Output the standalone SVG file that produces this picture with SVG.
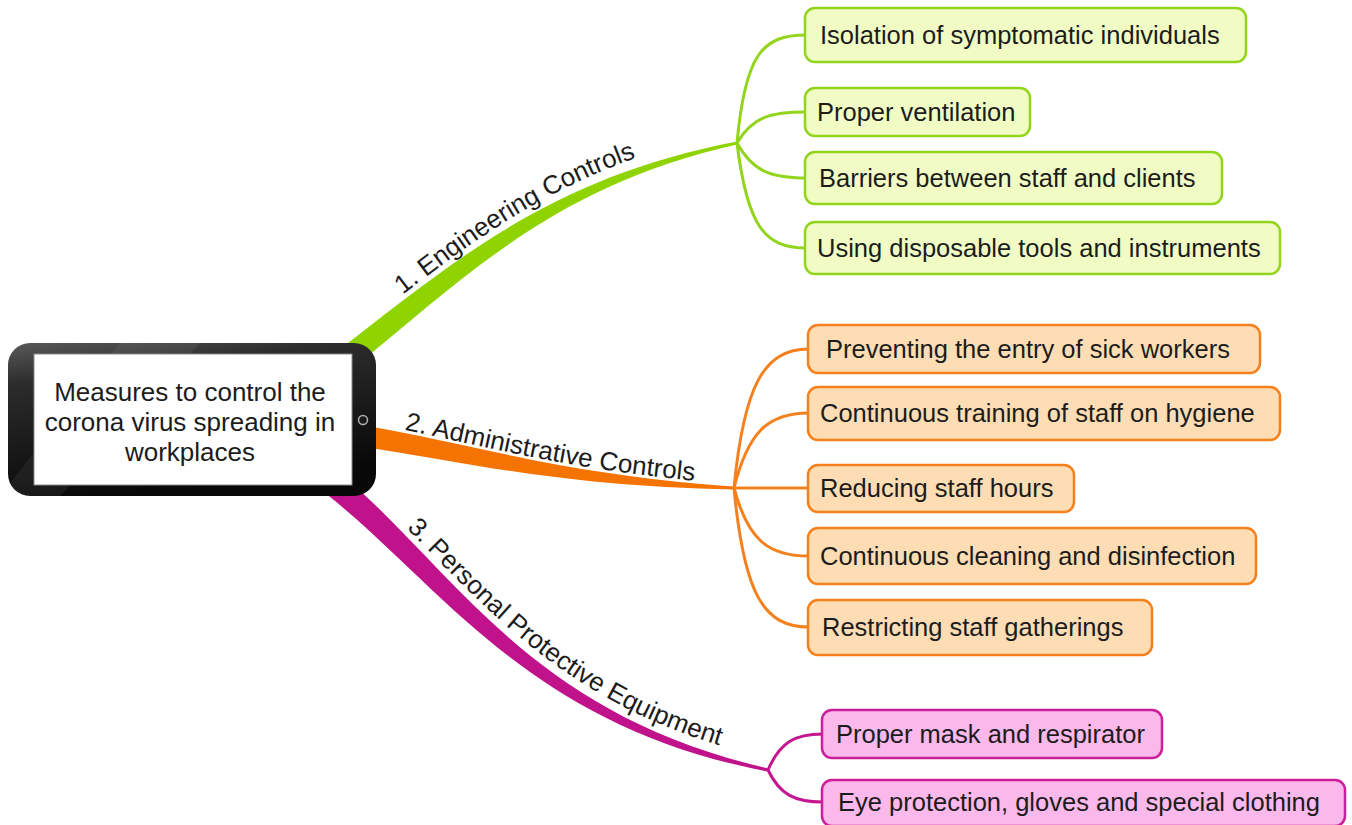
<svg xmlns="http://www.w3.org/2000/svg" width="1352" height="825" viewBox="0 0 1352 825">
<style>
text{font-family:"Liberation Sans",Arial,sans-serif;fill:#1c1c1c}
.leaf{font-size:25.5px}
.lbl{font-size:26px}
.ctr{font-size:26px}
.gb{fill:#f0fcc4;stroke:#93d41c;stroke-width:2.5}
.ob{fill:#fedcb4;stroke:#f5811e;stroke-width:2.5}
.pb{fill:#fbb8ea;stroke:#cc1e98;stroke-width:2.5}
.gl{fill:none;stroke:#93d41c;stroke-width:3}
.ol{fill:none;stroke:#f5811e;stroke-width:3}
.pl{fill:none;stroke:#c4168e;stroke-width:3}
</style>
<defs>
<linearGradient id="tab" x1="0" y1="0" x2="0.3" y2="1">
<stop offset="0" stop-color="#5a5a5a"/>
<stop offset="0.25" stop-color="#2c2c2c"/>
<stop offset="1" stop-color="#080808"/>
</linearGradient>
<path id="tp1" d="M 346,339 C 462,249 556,167 736,130"/>
<path id="tp2" d="M 370,423 C 483,444 560,471 734,484"/>
<path id="tp3" d="M 345,471 C 464,571 535,706 771,759"/>
</defs>
<rect width="1352" height="825" fill="#ffffff"/>
<g id="connectors">
<path d="M 348,343 C 464,253 558,176 737,141.5 L 737,144.5 C 562,184 476,267 362,361 Z" fill="#8fd400"/>
<path d="M 369.7,426.6 C 482,446 560,474 734,486.5 L 734,489.5 C 560,486 478,464 366.3,447.4 Z" fill="#f57300"/>
<path d="M 343,475.4 C 458.7,575 531.2,714 768.3,768.5 L 767.7,771.5 C 528.8,726 441.3,585 327,494.6 Z" fill="#c0128a"/>
<path class="gl" d="M 737,143 C 745,55 762,35 806,35"/>
<path class="gl" d="M 737,143 C 753,116 772,112 806,112"/>
<path class="gl" d="M 737,143 C 753,172 772,178 806,178"/>
<path class="gl" d="M 737,143 C 747,225 764,248 806,248"/>
<path class="ol" d="M 734,488 C 744,385 764,349 809,349"/>
<path class="ol" d="M 734,488 C 748,432 768,413 809,413"/>
<path class="ol" d="M 734,488 L 809,488"/>
<path class="ol" d="M 734,488 C 748,540 768,556 809,556"/>
<path class="ol" d="M 734,488 C 744,595 764,627 809,627"/>
<path class="pl" d="M 768,770 C 780,742 795,734 823,734"/>
<path class="pl" d="M 768,770 C 780,795 795,802 823,802"/>
<text class="lbl"><textPath href="#tp1" startOffset="72">1. Engineering Controls</textPath></text>
<text class="lbl"><textPath href="#tp2" startOffset="35">2. Administrative Controls</textPath></text>
<text class="lbl"><textPath href="#tp3" startOffset="84">3. Personal Protective Equipment</textPath></text>
</g>
<g id="center">
<rect x="8" y="343" width="368" height="153" rx="22" fill="url(#tab)"/>
<path d="M 120,343 L 200,343 L 60,496 L 0,496 Z" fill="#ffffff" opacity="0.06"/>
<rect x="34" y="354" width="318" height="131" fill="#ffffff" stroke="#8a8a8a" stroke-width="1"/>
<circle cx="363" cy="420" r="4.5" fill="#1a1a1a" stroke="#b0b0b0" stroke-width="1.5"/>
<text class="ctr" text-anchor="middle" x="190" y="401">Measures to control the</text>
<text class="ctr" text-anchor="middle" x="190" y="431">corona virus spreading in</text>
<text class="ctr" text-anchor="middle" x="190" y="461">workplaces</text>
</g>
<g id="g1"><rect class="gb" x="805" y="8" width="441" height="54" rx="10"/><text class="leaf" x="820" y="44">Isolation of symptomatic individuals</text></g>
<g id="g2"><rect class="gb" x="805" y="88" width="225" height="48" rx="10"/><text class="leaf" x="817" y="121">Proper ventilation</text></g>
<g id="g3"><rect class="gb" x="805" y="152" width="417" height="52" rx="10"/><text class="leaf" x="819" y="187">Barriers between staff and clients</text></g>
<g id="g4"><rect class="gb" x="805" y="222" width="475" height="52" rx="10"/><text class="leaf" x="817" y="257">Using disposable tools and instruments</text></g>
<g id="o1"><rect class="ob" x="808" y="325" width="452" height="48" rx="10"/><text class="leaf" x="826" y="358">Preventing the entry of sick workers</text></g>
<g id="o2"><rect class="ob" x="808" y="387" width="472" height="53" rx="10"/><text class="leaf" x="820" y="422">Continuous training of staff on hygiene</text></g>
<g id="o3"><rect class="ob" x="808" y="465" width="266" height="47" rx="10"/><text class="leaf" x="820" y="497">Reducing staff hours</text></g>
<g id="o4"><rect class="ob" x="808" y="528" width="448" height="56" rx="10"/><text class="leaf" x="820" y="565">Continuous cleaning and disinfection</text></g>
<g id="o5"><rect class="ob" x="808" y="600" width="344" height="55" rx="10"/><text class="leaf" x="822" y="636">Restricting staff gatherings</text></g>
<g id="p1"><rect class="pb" x="822" y="710" width="340" height="48" rx="10"/><text class="leaf" x="836" y="743">Proper mask and respirator</text></g>
<g id="p2"><rect class="pb" x="822" y="780" width="523" height="46" rx="10"/><text class="leaf" x="838" y="811">Eye protection, gloves and special clothing</text></g>
</svg>
